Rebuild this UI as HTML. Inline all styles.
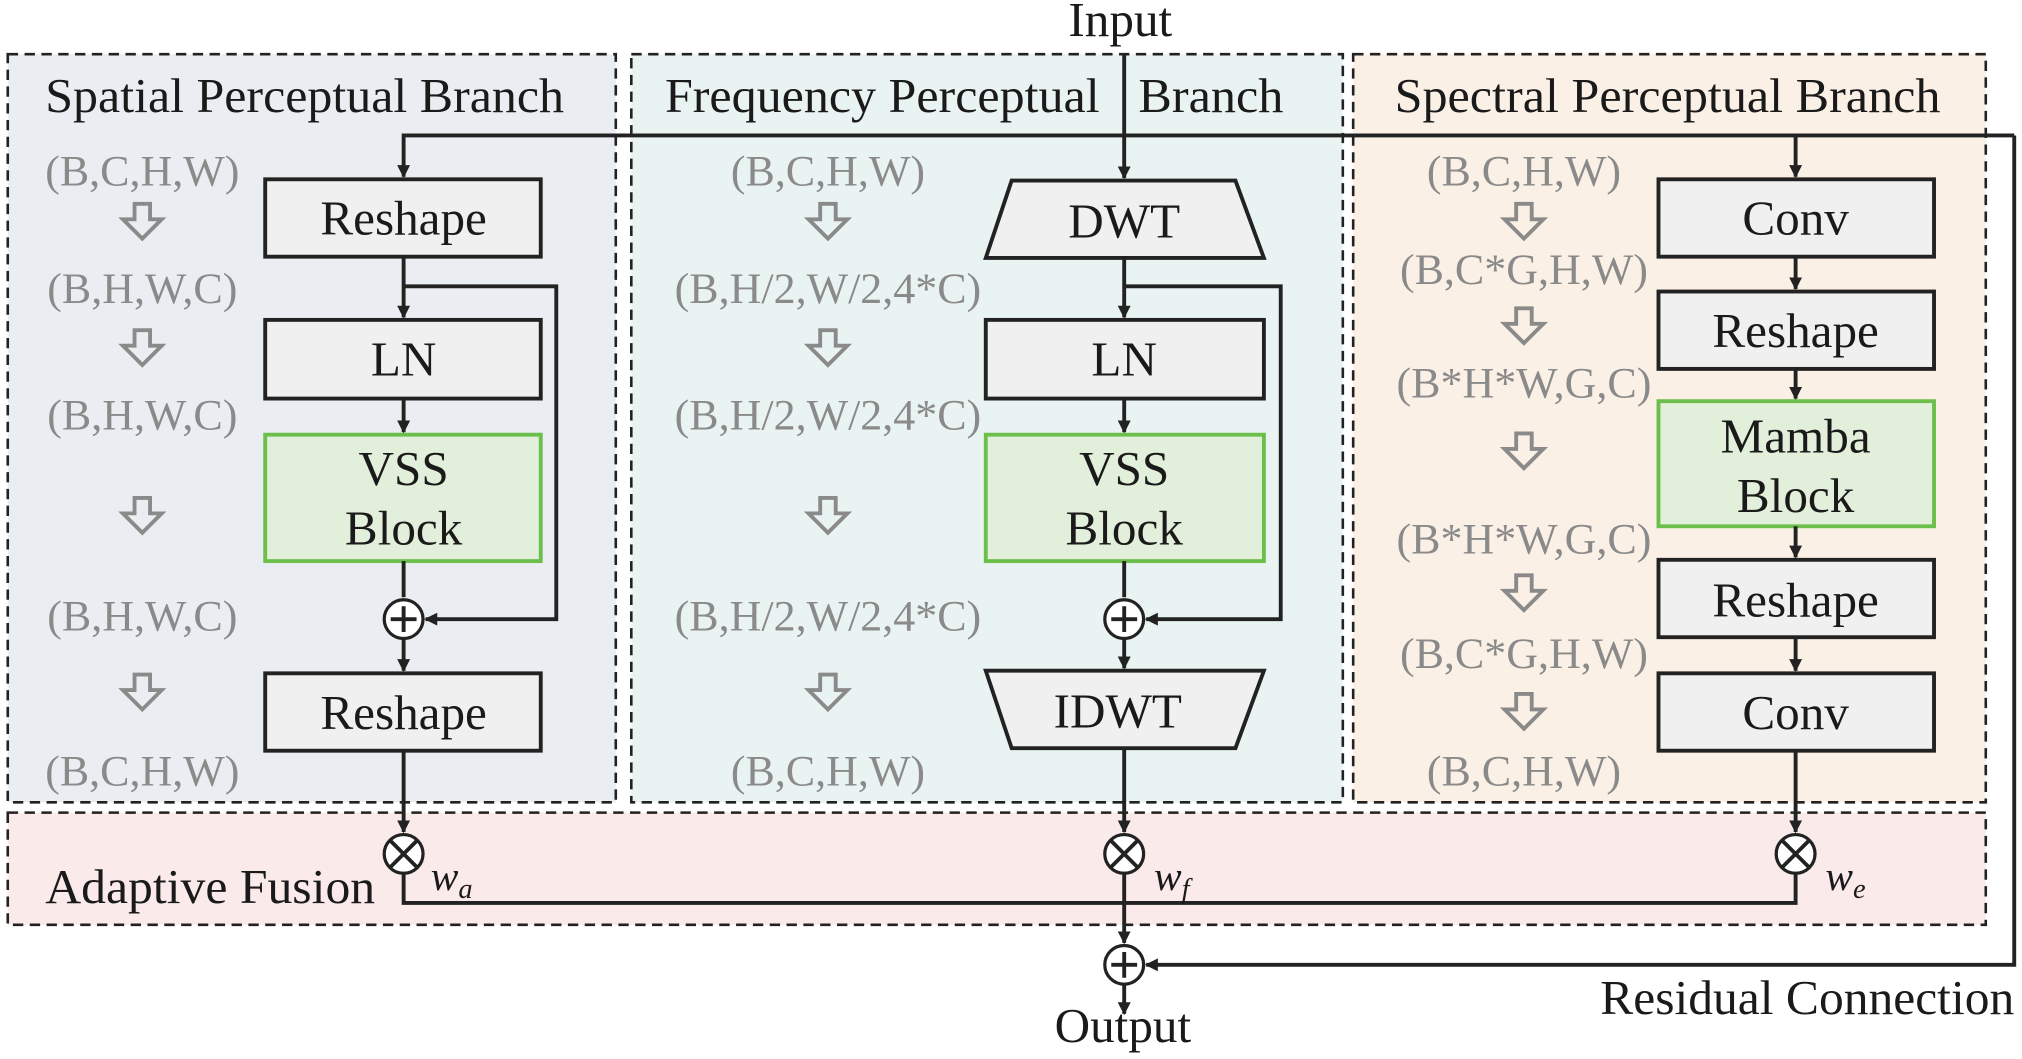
<!DOCTYPE html>
<html><head><style>
html,body{margin:0;padding:0;background:#fff}
svg{display:block}
text{font-family:"Liberation Serif",serif}
.t{font-size:38px;fill:#1a1a1a}
.g{font-size:34px;fill:#8a8a8a;text-anchor:middle}
.b{font-size:38px;fill:#1a1a1a;text-anchor:middle}
.box{fill:#f0f0f0;stroke:#222;stroke-width:3}
.grn{fill:#e2efda;stroke:#6cbf4a;stroke-width:3}
.ln{stroke:#222;stroke-width:3;fill:none}
.ha{fill:none;stroke:#8a8a8a;stroke-width:3}
</style></head><body>
<svg width="2022" height="1059" viewBox="0 0 1563 821" preserveAspectRatio="none">
<defs>
<marker id="a" markerWidth="10" markerHeight="10" refX="9" refY="5" orient="auto" markerUnits="userSpaceOnUse" viewBox="0 0 10 10"><path d="M0,0 L10,5 L0,10 z" fill="#222"/></marker>
<g id="ha"><path class="ha" d="M-6,-14 H6 V-2 H15 L0,13 L-15,-2 H-6 Z"/></g>
</defs>
<rect x="6" y="42" width="470" height="580" fill="#eaeef2" stroke="#222" stroke-width="2" stroke-dasharray="8,5"/>
<rect x="488" y="42" width="550" height="580" fill="#e9f4f2" stroke="#222" stroke-width="2" stroke-dasharray="8,5"/>
<rect x="1046" y="42" width="489" height="580" fill="#fbf0e6" stroke="#222" stroke-width="2" stroke-dasharray="8,5"/>
<rect x="6" y="630" width="1529" height="87" fill="#fbeaea" stroke="#222" stroke-width="2" stroke-dasharray="8,5"/>
<text class="t" x="35" y="87" textLength="401" lengthAdjust="spacingAndGlyphs">Spatial Perceptual Branch</text>
<text class="t" x="514" y="87" textLength="336" lengthAdjust="spacingAndGlyphs">Frequency Perceptual</text>
<text class="t" x="880" y="87" textLength="112" lengthAdjust="spacingAndGlyphs">Branch</text>
<text class="t" x="1078" y="87" textLength="422" lengthAdjust="spacingAndGlyphs">Spectral Perceptual Branch</text>
<text class="t" x="35" y="700" textLength="255" lengthAdjust="spacingAndGlyphs">Adaptive Fusion</text>
<text class="b" x="866" y="28">Input</text>
<text class="b" x="868" y="808">Output</text>
<text class="t" x="1237" y="786" textLength="320" lengthAdjust="spacingAndGlyphs">Residual Connection</text>

<g class="g"><text x="110" y="144">(B,C,H,W)</text><text x="110" y="235">(B,H,W,C)</text><text x="110" y="333">(B,H,W,C)</text><text x="110" y="489">(B,H,W,C)</text><text x="110" y="609">(B,C,H,W)</text>
<text x="640" y="144">(B,C,H,W)</text><text x="640" y="235">(B,H/2,W/2,4*C)</text><text x="640" y="333">(B,H/2,W/2,4*C)</text><text x="640" y="489">(B,H/2,W/2,4*C)</text><text x="640" y="609">(B,C,H,W)</text>
<text x="1178" y="144">(B,C,H,W)</text><text x="1178" y="220">(B,C*G,H,W)</text><text x="1178" y="308">(B*H*W,G,C)</text><text x="1178" y="429">(B*H*W,G,C)</text><text x="1178" y="518">(B,C*G,H,W)</text><text x="1178" y="609">(B,C,H,W)</text></g>
<use href="#ha" x="110" y="172"/><use href="#ha" x="110" y="270"/><use href="#ha" x="110" y="400"/><use href="#ha" x="110" y="537"/>
<use href="#ha" x="640" y="172"/><use href="#ha" x="640" y="270"/><use href="#ha" x="640" y="400"/><use href="#ha" x="640" y="537"/>
<use href="#ha" x="1178" y="172"/><use href="#ha" x="1178" y="253"/><use href="#ha" x="1178" y="350"/><use href="#ha" x="1178" y="460"/><use href="#ha" x="1178" y="552"/>

<rect class="box" x="205" y="139" width="213" height="60"/><text class="b" x="312" y="182">Reshape</text>
<rect class="box" x="205" y="248" width="213" height="61"/><text class="b" x="312" y="291">LN</text>
<rect class="grn" x="205" y="337" width="213" height="98"/><text class="b" x="312" y="376">VSS</text><text class="b" x="312" y="422">Block</text>
<rect class="box" x="205" y="522" width="213" height="60"/><text class="b" x="312" y="565">Reshape</text>
<path class="ln" d="M312,199 V246" marker-end="url(#a)"/>
<path class="ln" d="M312,309 V335" marker-end="url(#a)"/>
<path class="ln" d="M312,435 V463"/>
<path class="ln" d="M312,495 V520" marker-end="url(#a)"/>
<path class="ln" d="M312,222 H430 V480 H329" marker-end="url(#a)"/>
<circle cx="312" cy="480" r="15" fill="#fff" stroke="#222" stroke-width="2.5"/><path class="ln" stroke-width="2" d="M302,480 H322 M312,470 V490"/>

<path class="ln" d="M869,42 V138" marker-end="url(#a)"/>
<polygon class="box" points="782,140 955,140 977,200 762,200"/><text class="b" x="869" y="184">DWT</text>
<rect class="box" x="762" y="248" width="215" height="61"/><text class="b" x="869" y="291">LN</text>
<rect class="grn" x="762" y="337" width="215" height="98"/><text class="b" x="869" y="376">VSS</text><text class="b" x="869" y="422">Block</text>
<polygon class="box" points="762,520 977,520 955,580 782,580"/><text class="b" x="864" y="564">IDWT</text>
<path class="ln" d="M869,200 V246" marker-end="url(#a)"/>
<path class="ln" d="M869,309 V335" marker-end="url(#a)"/>
<path class="ln" d="M869,435 V463"/>
<path class="ln" d="M869,495 V518" marker-end="url(#a)"/>
<path class="ln" d="M869,222 H990 V480 H886" marker-end="url(#a)"/>
<circle cx="869" cy="480" r="15" fill="#fff" stroke="#222" stroke-width="2.5"/><path class="ln" stroke-width="2" d="M859,480 H879 M869,470 V490"/>

<rect class="box" x="1282" y="139" width="213" height="60"/><text class="b" x="1388" y="182">Conv</text>
<rect class="box" x="1282" y="226" width="213" height="60"/><text class="b" x="1388" y="269">Reshape</text>
<rect class="grn" x="1282" y="311" width="213" height="97"/><text class="b" x="1388" y="351">Mamba</text><text class="b" x="1388" y="397">Block</text>
<rect class="box" x="1282" y="434" width="213" height="60"/><text class="b" x="1388" y="478">Reshape</text>
<rect class="box" x="1282" y="522" width="213" height="60"/><text class="b" x="1388" y="565">Conv</text>
<path class="ln" d="M1388,199 V224" marker-end="url(#a)"/>
<path class="ln" d="M1388,286 V309" marker-end="url(#a)"/>
<path class="ln" d="M1388,408 V432" marker-end="url(#a)"/>
<path class="ln" d="M1388,494 V520" marker-end="url(#a)"/>

<path class="ln" d="M1557,105 H312 V137" marker-end="url(#a)"/>
<path class="ln" d="M1388,105 V137" marker-end="url(#a)"/>
<path class="ln" d="M1557,105 V748 H886" marker-end="url(#a)"/>

<path class="ln" d="M312,582 V645" marker-end="url(#a)"/>
<path class="ln" d="M869,580 V645" marker-end="url(#a)"/>
<path class="ln" d="M1388,582 V645" marker-end="url(#a)"/>
<path class="ln" d="M312,677 V700 H1388 V677"/>
<path class="ln" d="M869,677 V731" marker-end="url(#a)"/>
<path class="ln" d="M869,763 V786" marker-end="url(#a)"/>
<g stroke="#222" stroke-width="2.5" fill="#fff">
<circle cx="312" cy="662" r="15"/><circle cx="869" cy="662" r="15"/><circle cx="1388" cy="662" r="15"/><circle cx="869" cy="748" r="15"/></g>
<path class="ln" stroke-width="2" d="M302,652 L322,672 M322,652 L302,672 M859,652 L879,672 M879,652 L859,672 M1378,652 L1398,672 M1398,652 L1378,672 M859,748 H879 M869,738 V758"/>
<text x="333" y="690" font-size="32" font-style="italic" fill="#1a1a1a">w<tspan font-size="22" dy="6">a</tspan></text>
<text x="892" y="690" font-size="32" font-style="italic" fill="#1a1a1a">w<tspan font-size="22" dy="6">f</tspan></text>
<text x="1411" y="690" font-size="32" font-style="italic" fill="#1a1a1a">w<tspan font-size="22" dy="6">e</tspan></text>
</svg>
</body></html>
